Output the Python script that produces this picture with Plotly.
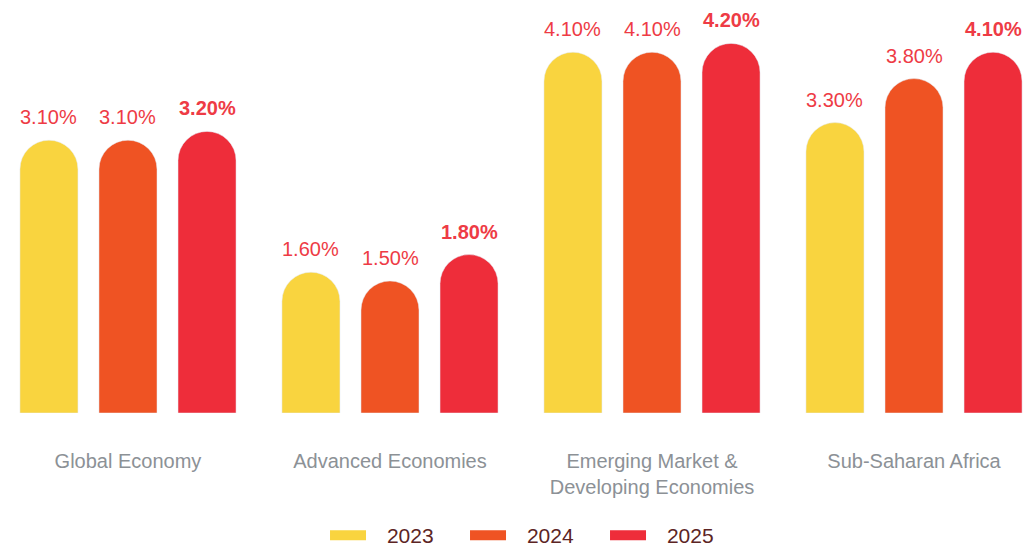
import plotly.graph_objects as go

# growth data
categories = ["Global Economy", "Advanced Economies",
              "Emerging Market &<br>Developing Economies", "Sub-Saharan Africa"]
years = ["2023", "2024", "2025"]
values_2023 = [3.1, 1.6, 4.1, 3.3]
values_2024 = [3.1, 1.5, 4.1, 3.8]
values_2025 = [3.2, 1.8, 4.2, 4.1]

series = [values_2023, values_2024, values_2025]
colors = ["#F9D43F", "#EF5323", "#EE2D3A"]
label_color = "#EE3B45"
font_family = "Liberation Sans, Arial, sans-serif"

bargap = 0.095
bargroupgap = 0.266

fig = go.Figure()
x_idx = list(range(len(categories)))
for year, vals, col in zip(years, series, colors):
    fig.add_trace(go.Bar(x=x_idx, y=vals, name=year, marker_color=col,
                         showlegend=False, hoverinfo="skip"))
    # legend entry as a thick line (closer to the pill shape than a square)
    fig.add_trace(go.Scatter(x=[None], y=[None], mode="lines",
                             name="\u00a0\u00a0\u2009" + year,
                             line=dict(color=col, width=16)))

# value labels above each bar
slot = (1 - bargap) / len(series)
for j, vals in enumerate(series):
    for i, v in enumerate(vals):
        txt = f"{v:.2f}%"
        if j == len(series) - 1:
            txt = f"<b>{txt}</b>"
        fig.add_annotation(x=i + (j - 1) * slot, y=v, text=txt, showarrow=False,
                           yanchor="bottom", yshift=10,
                           font=dict(family=font_family, size=20, color=label_color))

fig.update_layout(
    width=1024, height=547,
    barmode="group", bargap=bargap, bargroupgap=bargroupgap,
    barcornerradius="50%",
    plot_bgcolor="white", paper_bgcolor="white",
    margin=dict(l=0, r=0, t=0, b=134),
    font=dict(family=font_family),
    legend=dict(orientation="h", xref="container", yref="container",
                x=0.3174, xanchor="left", y=0.021, yanchor="middle",
                font=dict(size=21, color="#5C2424"), entrywidth=89, itemwidth=36,
                itemclick=False, itemdoubleclick=False),
)
fig.update_xaxes(range=[-0.4885, 3.4198], tickmode="array", tickvals=x_idx,
                 ticktext=categories, ticks="outside", ticklen=30, tickcolor="white",
                 tickfont=dict(size=20, color="#8C9196"), showgrid=False,
                 zeroline=False, showline=False)
fig.update_yaxes(range=[0, 4.693], visible=False, showgrid=False)

# drop the default body margin so the figure fills the window exactly
fig.write_html("out.html", config={"displayModeBar": False},
               post_script="document.body.style.margin='0';")
